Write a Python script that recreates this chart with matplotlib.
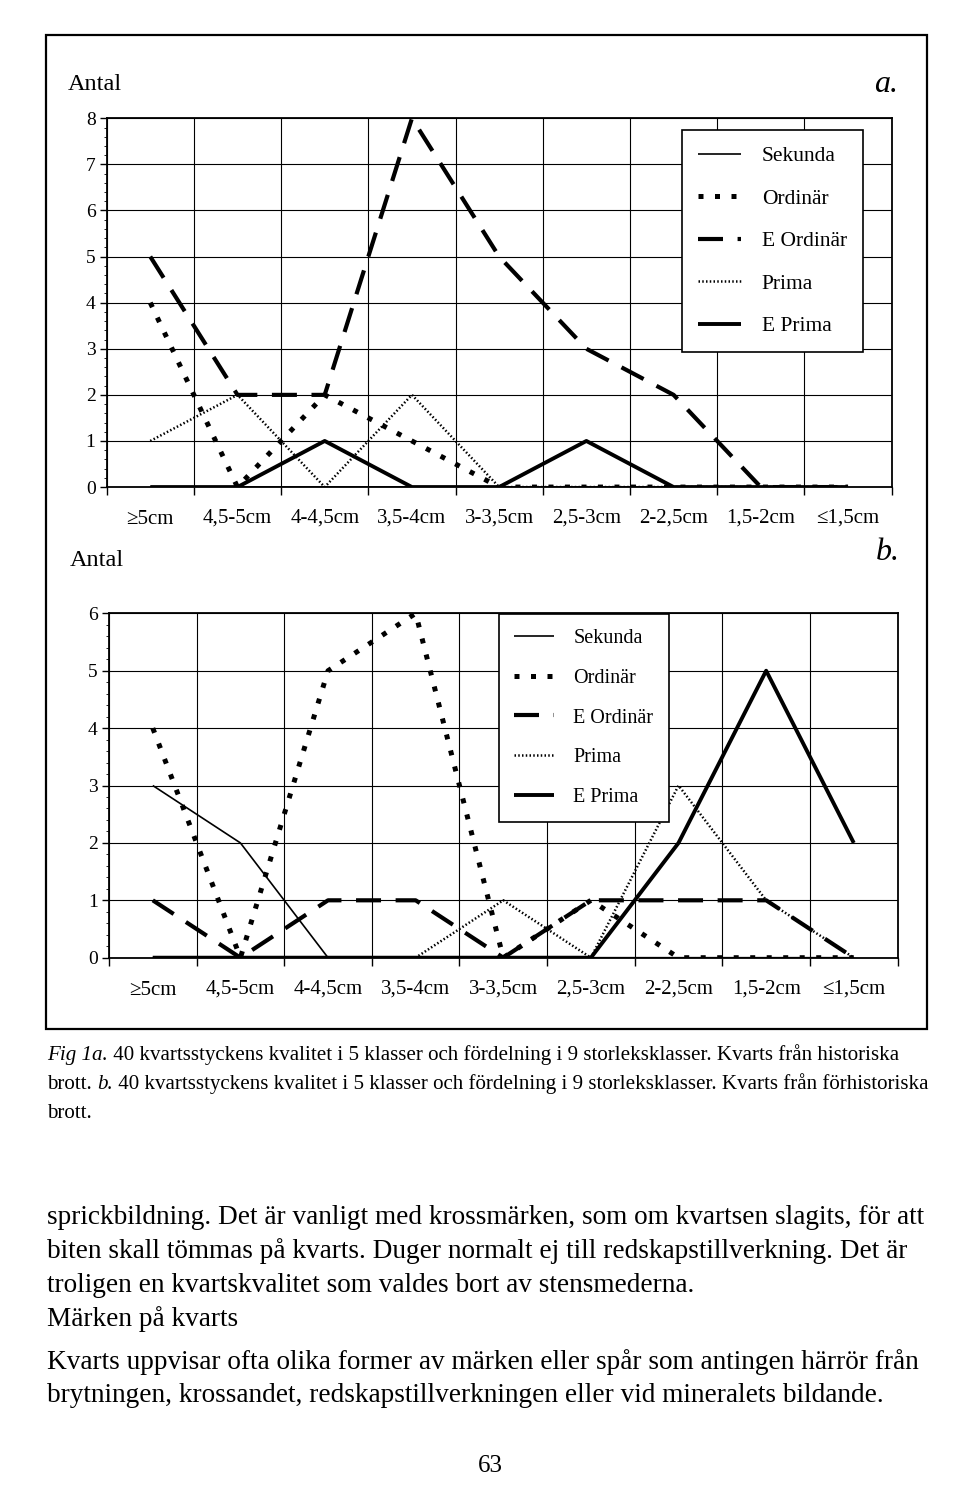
import matplotlib
matplotlib.use("Agg")
import matplotlib.pyplot as plt
import matplotlib.transforms as mtransforms
import numpy as np
from matplotlib.patches import Rectangle
from matplotlib.ticker import MultipleLocator

plt.rcParams["font.family"] = ["Liberation Serif", "DejaVu Serif"]

categories = ["≥5cm", "4,5-5cm", "4-4,5cm", "3,5-4cm", "3-3,5cm",
              "2,5-3cm", "2-2,5cm", "1,5-2cm", "≤1,5cm"]
series_names = ["Sekunda", "Ordinär", "E Ordinär", "Prima", "E Prima"]

# chart a: historical quarries
a_sekunda = [0, 0, 0, 0, 0, 0, 0, 0, 0]
a_ordinar = [4, 0, 2, 1, 0, 0, 0, 0, 0]
a_e_ordinar = [5, 2, 2, 8, 5, 3, 2, 0, 0]
a_prima = [1, 2, 0, 2, 0, 0, 0, 0, 0]
a_e_prima = [0, 0, 1, 0, 0, 1, 0, 0, 0]

# chart b: prehistoric quarries
b_sekunda = [3, 2, 0, 0, 0, 0, 0, 0, 0]
b_ordinar = [4, 0, 5, 6, 0, 1, 0, 0, 0]
b_e_ordinar = [1, 0, 1, 1, 0, 1, 1, 1, 0]
b_prima = [0, 0, 0, 0, 1, 0, 3, 1, 0]
b_e_prima = [0, 0, 0, 0, 0, 0, 2, 5, 2]

styles = {
    "Sekunda": dict(lw=1.2, ls="-"),
    "Ordinär": dict(lw=3.6, ls=(0, (1.0, 2.3))),
    "E Ordinär": dict(lw=3.0, ls=(0, (6, 3.5))),
    "Prima": dict(lw=1.8, ls=(0, (0.6, 0.9))),
    "E Prima": dict(lw=2.8, ls="-"),
}


def draw_chart(fig, ax, values, ymax, legend_xy, leg_size, labelspacing):
    x = np.arange(len(categories))
    for name, vals in zip(series_names, values):
        ax.plot(x, vals, color="black", label=name, zorder=3,
                solid_capstyle="butt", **styles[name])
    ax.set_xlim(-0.5, len(categories) - 0.5)
    ax.set_ylim(0, ymax)
    ax.set_xticks(np.arange(len(categories) + 1) - 0.5)
    ax.set_xticklabels([])
    ax.tick_params(axis="x", which="major", length=6, width=1, direction="out")
    # category names under the column centres; the "≥" label comes out a bit
    # high from the glyph fallback, so nudge it down
    base = mtransforms.blended_transform_factory(ax.transData, ax.transAxes)
    for xi, cat in zip(x, categories):
        dy = -0.355 - (0.014 if cat.startswith("≥") else 0)
        trans = base + mtransforms.ScaledTranslation(0, dy, fig.dpi_scale_trans)
        ax.text(xi, 0, cat, transform=trans, fontsize=15, ha="center",
                va="baseline", clip_on=False)
    ax.set_yticks(range(ymax + 1))
    ax.yaxis.set_minor_locator(MultipleLocator(0.2))
    ax.tick_params(axis="y", which="major", length=5, width=1, labelsize=14, pad=3)
    ax.tick_params(axis="y", which="minor", length=2.5, width=0.6)
    ax.grid(True, which="major", color="black", lw=0.8)
    for sp in ax.spines.values():
        sp.set_linewidth(1.3)
    leg = ax.legend(loc="upper left", bbox_to_anchor=legend_xy, fontsize=leg_size,
                    frameon=True, fancybox=False, framealpha=1, edgecolor="black",
                    handlelength=2.0, handletextpad=0.95, labelspacing=labelspacing,
                    borderpad=0.75, borderaxespad=0)
    leg.get_frame().set_linewidth(1.2)
    leg.set_zorder(5)


fig = plt.figure(figsize=(9.6, 15.07), dpi=100)
bg = fig.add_axes([0, 0, 1, 1], zorder=-1)
bg.set_xlim(0, 960)
bg.set_ylim(1507, 0)
bg.axis("off")
bg.add_patch(Rectangle((45.5, 35), 881, 994, fill=False, lw=1.6, ec="black"))

ax_a = fig.add_axes([0.1111, 0.6768, 0.8177, 0.2447])
draw_chart(fig, ax_a, [a_sekunda, a_ordinar, a_e_ordinar, a_prima, a_e_prima], 8,
           (0.733, 0.968), 15.5, 1.04)
ax_b = fig.add_axes([0.1135, 0.3645, 0.8215, 0.2285])
draw_chart(fig, ax_b, [b_sekunda, b_ordinar, b_e_ordinar, b_prima, b_e_prima], 6,
           (0.4945, 0.998), 14.5, 1.02)

bg.text(68, 85, "Antal", fontsize=17.5, va="center", ha="left")
bg.text(70, 561, "Antal", fontsize=17.5, va="center", ha="left")
bg.text(898, 84, "a.", fontsize=23, style="italic", va="center", ha="right")
bg.text(900, 553, "b.", fontsize=23, style="italic", va="center", ha="right")


def text_run(x, y, parts, size):
    prev = None
    for txt, italic in parts:
        kw = dict(fontsize=size, style="italic" if italic else "normal",
                  va="bottom", ha="left")
        if prev is None:
            prev = bg.text(x, y, txt, **kw)
        else:
            prev = bg.annotate(txt, xy=(1, 0), xycoords=prev, **kw)


cap = 15.1
text_run(47, 1065, [("Fig 1a.", True),
                    (" 40 kvartsstyckens kvalitet i 5 klasser och fördelning i 9 storleksklasser. Kvarts från historiska", False)], cap)
text_run(47, 1094, [("brott. ", False), ("b.", True),
                    (" 40 kvartsstyckens kvalitet i 5 klasser och fördelning i 9 storleksklasser. Kvarts från förhistoriska", False)], cap)
text_run(47, 1123, [("brott.", False)], cap)

body = [
    "sprickbildning. Det är vanligt med krossmärken, som om kvartsen slagits, för att",
    "biten skall tömmas på kvarts. Duger normalt ej till redskapstillverkning. Det är",
    "troligen en kvartskvalitet som valdes bort av stensmederna.",
    "Märken på kvarts",
]
body_y = [1218, 1251, 1285, 1319]
for line, y in zip(body, body_y):
    bg.text(47, y, line, fontsize=19.6, va="center", ha="left")
body2 = [
    "Kvarts uppvisar ofta olika former av märken eller spår som antingen härrör från",
    "brytningen, krossandet, redskapstillverkningen eller vid mineralets bildande.",
]
for line, y in zip(body2, [1362, 1395]):
    bg.text(47, y, line, fontsize=19.6, va="center", ha="left")

bg.text(490, 1466, "63", fontsize=18, va="center", ha="center")

fig.savefig("out.png", dpi=100)
